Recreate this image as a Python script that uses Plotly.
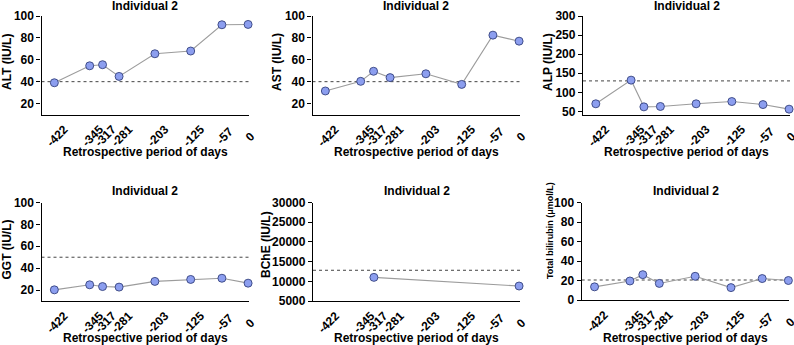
import plotly.graph_objects as go

days = [-422, -345, -317, -281, -203, -125, -57, 0]
tick_labels = ["-422", "-345", "-317", "-281", "-203", "-125", "-57", "0"]

alt = [39, 54.5, 55.5, 44.8, 65.5, 68, 92, 92.3]
ast = [31.5, 40.3, 49.5, 43.7, 47.2, 37.5, 82.5, 77]
alp = [70, 132, 62, 63, 70, 76, 68, 56]
ggt = [20.2, 24.8, 23.2, 22.7, 27.9, 29.7, 30.8, 26.3]
bche = [None, None, 11000, None, None, None, None, 8800]
tbil = [13.5, 19.5, 26, 17, 24.3, 12.7, 22, 20]

panels = [
    dict(name="ALT (IU/L)", y=alt, ref=40, rng=[10, 100], ticks=[20, 40, 60, 80, 100]),
    dict(name="AST (IU/L)", y=ast, ref=40, rng=[10, 100], ticks=[20, 40, 60, 80, 100]),
    dict(name="ALP (IU/L)", y=alp, ref=130, rng=[42, 300], ticks=[50, 100, 150, 200, 250, 300]),
    dict(name="GGT (IU/L)", y=ggt, ref=50, rng=[10, 100], ticks=[20, 40, 60, 80, 100]),
    dict(name="BChE (IU/L)", y=bche, ref=12800, rng=[5000, 30000],
         ticks=[5000, 10000, 15000, 20000, 25000, 30000]),
    dict(name="Total bilirubin (μmol/L)", y=tbil, ref=20.5, rng=[0, 100],
         ticks=[0, 20, 40, 60, 80, 100]),
]

# centre the rotated labels on their ticks (GraphPad style) by padding the
# shorter labels with trailing no-break spaces
CHW = {"-": 0.333, "\u00a0": 0.278}
def _w(s):
    return sum(CHW.get(c, 0.556) for c in s)
_wmax = max(_w(s) for s in tick_labels)
shown_labels = [s + "\u00a0" * round((_wmax - _w(s)) / 2 / 0.278) for s in tick_labels]

W, H = 794, 345
# pixel geometry of plot areas: (left, right, top, bottom)
boxes = [
    (41.5, 249, 16, 114.5),
    (312.5, 520, 16, 114.5),
    (583, 790, 16, 114.5),
    (41.5, 249, 202.5, 301),
    (313, 520, 202.5, 301),
    (581.7, 789.3, 202.5, 300),
]
# y-title positions (x center px, y center px, font size)
ytitles = [(7, 62, 12), (277, 62, 12), (548, 62, 12),
           (6, 249.5, 12), (266, 245, 12), (550, 231, 9)]

BOLD = dict(family="Liberation Sans, Arial, sans-serif", size=12, color="black", weight="bold")
TICKX = dict(BOLD, size=12)

fig = go.Figure()
annotations = []
shapes = []
layout = {}
for i, (p, box) in enumerate(zip(panels, boxes)):
    n = i + 1
    xa = "xaxis" if n == 1 else f"xaxis{n}"
    ya = "yaxis" if n == 1 else f"yaxis{n}"
    xr = "x" if n == 1 else f"x{n}"
    yr = "y" if n == 1 else f"y{n}"
    l, r, t, b = box
    layout[xa] = dict(
        domain=[l / W, r / W], anchor=yr, range=[-450, 2], automargin=False,
        tickmode="array", tickvals=days, ticktext=shown_labels, tickangle=-45,
        showline=True, linecolor="black", linewidth=1.3, ticks="",
        showgrid=False, zeroline=False, tickfont=TICKX,
        ticklabelstandoff=2, ticklabelshift=10, ticklabeloverflow="allow",
    )
    layout[ya] = dict(
        domain=[1 - b / H, 1 - t / H], anchor=xr, range=p["rng"], automargin=False,
        tickmode="array", tickvals=p["ticks"], ticks="outside", ticklen=4,
        tickwidth=1.3, tickcolor="black", tickformat="d",
        showline=True, linecolor="black", linewidth=1.3,
        showgrid=False, zeroline=False, tickfont=BOLD,
    )
    fig.add_trace(go.Scatter(
        x=days, y=p["y"], xaxis=xr, yaxis=yr, mode="lines+markers",
        connectgaps=True, cliponaxis=False, showlegend=False,
        line=dict(color="#9c9c9c", width=1.1),
        marker=dict(symbol="circle", size=8, color="#8c9eef",
                    line=dict(color="#34427e", width=0.9)),
    ))
    shapes.append(dict(type="line", xref=f"{xr} domain", yref=yr,
                       x0=0, x1=1, y0=p["ref"], y1=p["ref"],
                       line=dict(color="#444444", width=1, dash="dot"),
                       layer="below"))
    cx = (l + r) / 2
    ty = 6 if i < 3 else 191
    annotations.append(dict(text="Individual 2", x=cx / W, y=1 - ty / H,
                            xref="paper", yref="paper", showarrow=False,
                            xanchor="center", yanchor="middle", font=BOLD))
    xty = 152 if i < 3 else 338
    annotations.append(dict(text="Retrospective period of days", x=cx / W, y=1 - xty / H,
                            xref="paper", yref="paper", showarrow=False,
                            xanchor="center", yanchor="middle", font=BOLD))
    yx, yy, fs = ytitles[i]
    annotations.append(dict(text=p["name"], x=yx / W, y=1 - yy / H,
                            xref="paper", yref="paper", showarrow=False,
                            xanchor="center", yanchor="middle", textangle=-90,
                            font=dict(BOLD, size=fs)))

fig.update_layout(
    width=W, height=H, margin=dict(l=0, r=0, t=0, b=0, autoexpand=False),
    paper_bgcolor="white", plot_bgcolor="white",
    annotations=annotations, shapes=shapes, **layout,
)
fig.write_html("out.html", config={"displayModeBar": False},
               post_script="document.body.style.margin='0';document.body.style.overflow='hidden';")
